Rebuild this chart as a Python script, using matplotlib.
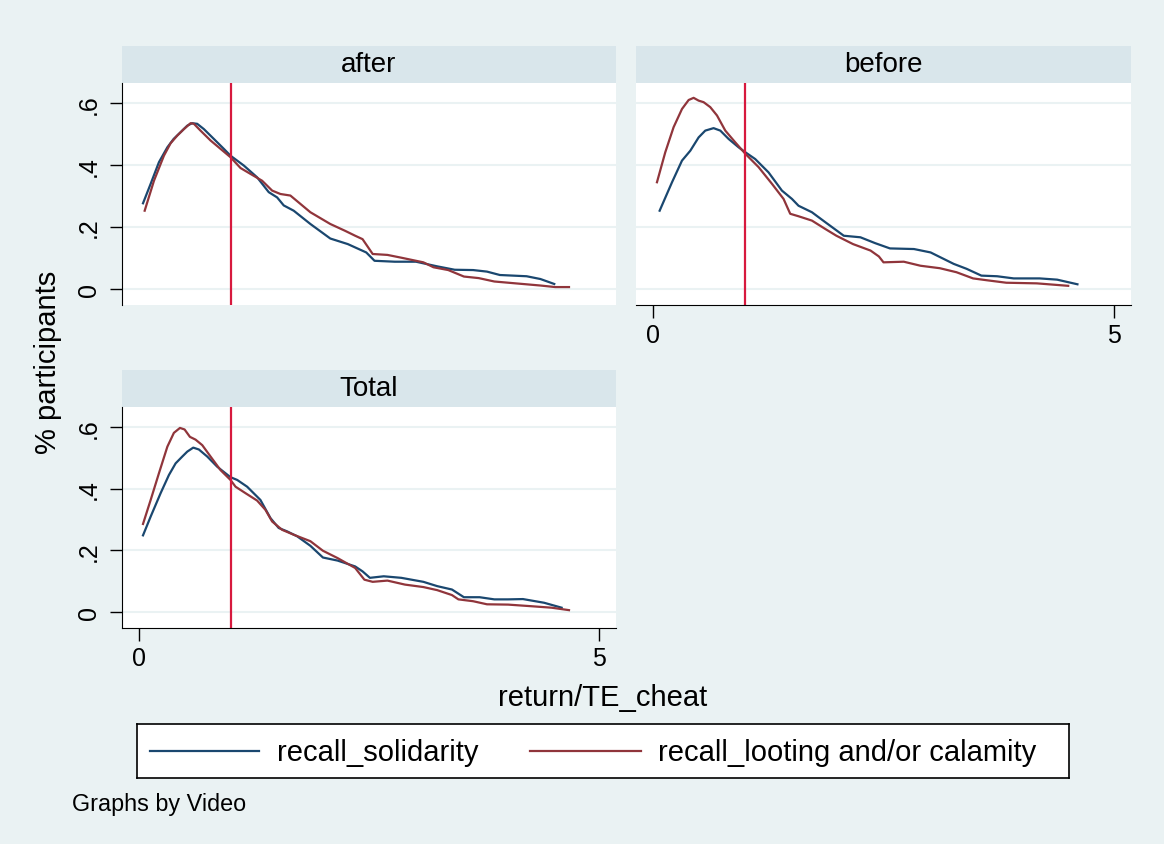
import matplotlib.pyplot as plt

plt.rcParams['font.family'] = ['Liberation Sans', 'DejaVu Sans']

# kernel density curves
after_sol_x = [0.048, 0.131, 0.221, 0.312, 0.38, 0.456, 0.528, 0.581, 0.636, 0.708, 0.817, 0.925, 0.997, 1.142,
               1.286, 1.412, 1.503, 1.575, 1.683, 1.864, 2.08, 2.27, 2.47, 2.56, 2.78, 3.01, 3.24, 3.43, 3.63,
               3.78, 3.92, 4.21, 4.36, 4.51]
after_sol_y = [0.277, 0.34, 0.41, 0.458, 0.485, 0.507, 0.528, 0.536, 0.534, 0.517, 0.485, 0.453, 0.431, 0.399,
               0.361, 0.313, 0.296, 0.27, 0.253, 0.21, 0.163, 0.145, 0.118, 0.091, 0.088, 0.088, 0.073, 0.062,
               0.061, 0.056, 0.045, 0.041, 0.032, 0.016]
after_loot_x = [0.066, 0.167, 0.275, 0.347, 0.42, 0.492, 0.564, 0.6, 0.672, 0.781, 0.889, 0.997, 1.106, 1.214,
                1.34, 1.449, 1.539, 1.647, 1.864, 2.08, 2.24, 2.35, 2.43, 2.54, 2.70, 2.85, 3.09, 3.20, 3.36,
                3.53, 3.69, 3.86, 4.09, 4.36, 4.52, 4.67]
after_loot_y = [0.253, 0.35, 0.431, 0.471, 0.496, 0.517, 0.536, 0.534, 0.512, 0.48, 0.453, 0.426, 0.391, 0.372,
                0.35, 0.318, 0.307, 0.302, 0.248, 0.21, 0.188, 0.172, 0.161, 0.113, 0.11, 0.101, 0.086, 0.07,
                0.061, 0.04, 0.035, 0.024, 0.018, 0.011, 0.006, 0.006]

before_sol_x = [0.076, 0.21, 0.318, 0.408, 0.498, 0.57, 0.66, 0.733, 0.823, 0.931, 1.004, 1.111, 1.255, 1.4,
                1.509, 1.58, 1.725, 1.869, 2.07, 2.25, 2.41, 2.57, 2.83, 3.01, 3.26, 3.40, 3.56, 3.73, 3.91,
                4.19, 4.38, 4.60]
before_sol_y = [0.253, 0.345, 0.415, 0.447, 0.49, 0.512, 0.52, 0.512, 0.485, 0.458, 0.442, 0.42, 0.377, 0.318,
                0.291, 0.269, 0.248, 0.216, 0.172, 0.167, 0.148, 0.131, 0.129, 0.118, 0.081, 0.065, 0.043,
                0.041, 0.034, 0.034, 0.03, 0.015]
before_loot_x = [0.047, 0.137, 0.227, 0.318, 0.39, 0.444, 0.498, 0.552, 0.624, 0.697, 0.787, 0.895, 1.004,
                 1.147, 1.292, 1.418, 1.49, 1.58, 1.725, 1.869, 1.99, 2.17, 2.36, 2.45, 2.50, 2.72, 2.90, 3.11,
                 3.29, 3.47, 3.62, 3.83, 4.16, 4.50]
before_loot_y = [0.345, 0.442, 0.523, 0.582, 0.611, 0.618, 0.609, 0.604, 0.588, 0.561, 0.512, 0.474, 0.437,
                 0.394, 0.34, 0.291, 0.243, 0.235, 0.221, 0.194, 0.172, 0.145, 0.124, 0.105, 0.086, 0.088,
                 0.075, 0.067, 0.054, 0.034, 0.028, 0.02, 0.018, 0.01]

total_sol_x = [0.048, 0.131, 0.239, 0.329, 0.402, 0.474, 0.528, 0.593, 0.654, 0.745, 0.853, 0.997, 1.07, 1.178,
               1.322, 1.431, 1.52, 1.611, 1.72, 1.864, 2.00, 2.16, 2.35, 2.43, 2.51, 2.66, 2.85, 3.09, 3.24,
               3.40, 3.53, 3.70, 3.86, 4.01, 4.17, 4.40, 4.59]
total_sol_y = [0.249, 0.31, 0.386, 0.445, 0.483, 0.505, 0.521, 0.534, 0.528, 0.505, 0.472, 0.438, 0.429, 0.407,
               0.364, 0.305, 0.273, 0.262, 0.246, 0.215, 0.177, 0.167, 0.148, 0.132, 0.111, 0.116, 0.111,
               0.098, 0.084, 0.073, 0.048, 0.048, 0.041, 0.041, 0.042, 0.03, 0.014]
total_loot_x = [0.048, 0.131, 0.221, 0.312, 0.383, 0.449, 0.499, 0.557, 0.618, 0.691, 0.781, 0.889, 0.997,
                1.052, 1.16, 1.286, 1.376, 1.449, 1.557, 1.683, 1.864, 2.00, 2.16, 2.35, 2.45, 2.54, 2.70,
                2.89, 3.09, 3.24, 3.40, 3.47, 3.63, 3.78, 4.01, 4.25, 4.48, 4.67]
total_loot_y = [0.286, 0.364, 0.451, 0.537, 0.582, 0.598, 0.593, 0.569, 0.56, 0.542, 0.505, 0.461, 0.429,
                0.407, 0.386, 0.362, 0.332, 0.294, 0.267, 0.251, 0.23, 0.199, 0.175, 0.143, 0.105, 0.098,
                0.102, 0.089, 0.081, 0.071, 0.055, 0.041, 0.035, 0.025, 0.024, 0.019, 0.014, 0.006]

cutoff = 1
y_ticks = [0, 0.2, 0.4, 0.6]
y_tick_labels = ['0', '.2', '.4', '.6']
x_ticks = [0, 5]
x_tick_labels = ['0', '5']

BG = '#EAF2F3'
HEAD = '#D9E6EB'
BLUE = '#1A476F'
RED = '#90353B'
VLINE = '#D7193E'

W, H = 1164, 845
fig = plt.figure(figsize=(W / 100, H / 100), dpi=100, facecolor=BG)


def rect(x0, y0, x1, y1):
    return [x0 / W, 1 - y1 / H, (x1 - x0) / W, (y1 - y0) / H]


def panel(x0, y0, x1, y1, title, sx, sy, lx, ly, show_y, show_x):
    hd = fig.add_axes(rect(x0, y0 - 37, x1, y0), facecolor=HEAD)
    hd.set_xticks([])
    hd.set_yticks([])
    for s in hd.spines.values():
        s.set_visible(False)
    hd.text(0.5, 0.5, title, ha='center', va='center', fontsize=20, transform=hd.transAxes)

    ax = fig.add_axes(rect(x0, y0, x1, y1), facecolor='white')
    ax.plot(sx, sy, color=BLUE, lw=1.6)
    ax.plot(lx, ly, color=RED, lw=1.6)
    ax.axvline(cutoff, color=VLINE, lw=1.6)
    ax.set_xlim(-0.18, 5.18)
    ax.set_ylim(-0.052, 0.666)
    ax.set_yticks(y_ticks)
    ax.grid(axis='y', color=BG, lw=1.5)
    ax.set_axisbelow(True)
    ax.spines['top'].set_visible(False)
    ax.spines['right'].set_visible(False)
    ax.spines['left'].set_visible(show_y)
    ax.spines['bottom'].set_visible(show_x)
    if show_y:
        ax.set_yticklabels(y_tick_labels, rotation=90, va='center', fontsize=18)
        ax.tick_params(axis='y', length=9, width=1, pad=6)
    else:
        ax.tick_params(axis='y', length=0, labelleft=False)
    if show_x:
        ax.set_xticks(x_ticks)
        ax.set_xticklabels(x_tick_labels, fontsize=18)
        ax.tick_params(axis='x', length=9, width=1, pad=4)
    else:
        ax.set_xticks([])
    return ax


panel(122, 84, 616, 306, 'after', after_sol_x, after_sol_y, after_loot_x, after_loot_y, True, False)
panel(636, 84, 1131, 306, 'before', before_sol_x, before_sol_y, before_loot_x, before_loot_y, False, True)
panel(122, 408, 616, 629, 'Total', total_sol_x, total_sol_y, total_loot_x, total_loot_y, True, True)

fig.text(48 / W, 1 - 362 / H, '% participants', rotation=90, ha='center', va='center', fontsize=21)
fig.text(603 / W, 1 - 698 / H, 'return/TE_cheat', ha='center', va='center', fontsize=21)

# legend box
lg = fig.add_axes(rect(137, 725, 1069, 779), facecolor='white')
lg.set_xlim(137, 1069)
lg.set_ylim(779, 725)
lg.set_xticks([])
lg.set_yticks([])
for s in lg.spines.values():
    s.set_linewidth(1.2)
lg.plot([150, 259], [752, 752], color=BLUE, lw=1.6)
lg.text(277, 753, 'recall_solidarity', va='center', ha='left', fontsize=21)
lg.plot([530, 641], [752, 752], color=RED, lw=1.6)
lg.text(658, 753, 'recall_looting and/or calamity', va='center', ha='left', fontsize=21)

fig.text(72 / W, 1 - 805 / H, 'Graphs by Video', ha='left', va='center', fontsize=16.8)

fig.savefig('out.png', dpi=100, facecolor=BG)
